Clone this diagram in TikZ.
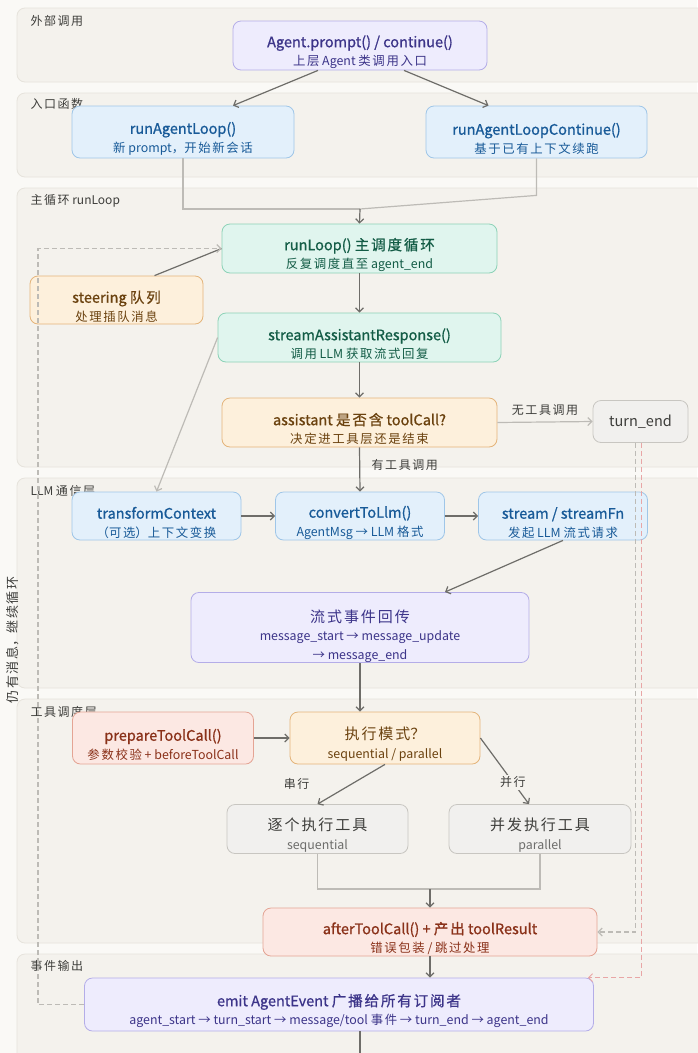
\documentclass[tikz,border=0pt]{standalone}
\usepackage{fontspec}
\setmainfont{Noto Sans CJK SC}
\newfontfamily\ttlfamily{Noto Sans CJK SC}[FakeBold=0.9]
\usepackage{xcolor}
\usepackage{tikz}
\usetikzlibrary{arrows.meta,calc,positioning}

\definecolor{pagebg}{HTML}{FAF9F6}
\definecolor{laneF}{HTML}{F4F2ED}
\definecolor{laneD}{HTML}{E6E3DC}
\definecolor{laneT}{HTML}{3D3D3A}
\definecolor{purpleF}{HTML}{EEECFD}
\definecolor{purpleD}{HTML}{B4ADE8}
\definecolor{purpleT}{HTML}{3C3489}
\definecolor{blueF}{HTML}{E3F0FB}
\definecolor{blueD}{HTML}{9FC6E8}
\definecolor{blueT}{HTML}{185A98}
\definecolor{greenF}{HTML}{E0F5EE}
\definecolor{greenD}{HTML}{8CD2B7}
\definecolor{greenT}{HTML}{135C46}
\definecolor{orangeF}{HTML}{FDF0DC}
\definecolor{orangeD}{HTML}{E4B47A}
\definecolor{orangeT}{HTML}{6B420F}
\definecolor{grayF}{HTML}{F1F0EE}
\definecolor{grayD}{HTML}{C8C6C1}
\definecolor{grayT}{HTML}{3D3D3A}
\definecolor{redF}{HTML}{FCE8E3}
\definecolor{redD}{HTML}{E4A494}
\definecolor{redT}{HTML}{8A3119}
\definecolor{darkline}{HTML}{6E6D69}
\definecolor{lightline}{HTML}{BDBBB6}
\definecolor{pinkline}{HTML}{E8A6A6}

% titles sit a little low in their boxes
\newcommand{\hd}[1]{{\rule{0pt}{25pt}\ttlfamily\fontsize{14.5}{18.5}\selectfont #1}}

% spread CJK ideographs a little
\newXeTeXintercharclass\cjkclass
\newcount\cjkcode
\cjkcode="4E00
\loop
  \XeTeXcharclass\cjkcode=\cjkclass
  \advance\cjkcode by 1
\ifnum\cjkcode<"9FB0
\repeat
\XeTeXinterchartokenstate=1
\XeTeXinterchartoks\cjkclass\cjkclass={\kern0.13em}

\begin{document}
\begin{tikzpicture}[x=1pt,y=-1pt,>={Straight Barb[length=4pt,width=8pt]},
  every node/.style={font=\fontsize{12.4}{18.5}\selectfont},
  lane/.style={fill=laneF,draw=laneD,line width=0.8pt,rounded corners=8pt},
  lanelabel/.style={anchor=west,text=laneT,font=\fontsize{12}{14}\selectfont},
  box/.style={draw,rounded corners=8pt,line width=0.8pt,align=center,inner sep=0pt},
  purplebox/.style={box,fill=purpleF,draw=purpleD,text=purpleT},
  bluebox/.style={box,fill=blueF,draw=blueD,text=blueT},
  greenbox/.style={box,fill=greenF,draw=greenD,text=greenT},
  orangebox/.style={box,fill=orangeF,draw=orangeD,text=orangeT},
  graybox/.style={box,fill=grayF,draw=grayD,text=grayT},
  redbox/.style={box,fill=redF,draw=redD,text=redT},
  flow/.style={draw=darkline,line width=1.2pt},
  soft/.style={draw=lightline,line width=1.2pt},
  loopback/.style={soft,dash pattern=on 5pt off 3pt},
  hotloop/.style={draw=pinkline,line width=1pt,dash pattern=on 5pt off 3pt},
  edgelabel/.style={text=laneT,font=\fontsize{12}{14}\selectfont}]

  \fill[pagebg] (0,0) rectangle (697,1053);
  \useasboundingbox (0,0) rectangle (697,1053);

  \foreach \ya/\yb/\lab/\ly in {8/82/外部调用/21,93/177/入口函数/104,188/467/主循环 runLoop/201,
      478/688/LLM 通信层/491,699/943/工具调度层/712,954/1080/事件输出/966}{
    \draw[lane] (17,\ya) rectangle (720,\yb);
    \node[lanelabel] (lab\ya) at (27,\ly) {\lab};
  }

  \node[purplebox,minimum width=254pt,minimum height=49pt] (agent) at (360,45.5)
    {\hd{Agent.prompt() / continue()}\\上层 Agent 类调用入口};
  \node[bluebox,minimum width=222pt,minimum height=52pt] (entry) at (183,132)
    {\hd{runAgentLoop()}\\新 prompt，开始新会话};
  \node[bluebox,minimum width=221pt,minimum height=52pt] (entrycont) at (536.5,132)
    {\hd{runAgentLoopContinue()}\\基于已有上下文续跑};
  \node[greenbox,minimum width=275pt,minimum height=49pt] (runloop) at (359.5,248.5)
    {\hd{runLoop() 主调度循环}\\反复调度直至 agent\_end};
  \node[orangebox,minimum width=173pt,minimum height=48pt] (steer) at (116.5,300)
    {\hd{steering 队列}\\处理插队消息};
  \node[greenbox,minimum width=283pt,minimum height=49pt] (respond) at (359.5,337.5)
    {\hd{streamAssistantResponse()}\\调用 LLM 获取流式回复};
  \node[orangebox,minimum width=275pt,minimum height=49pt] (hascall) at (359.5,422.5)
    {\hd{assistant 是否含 toolCall?}\\决定进工具层还是结束};
  \node[graybox,minimum width=95pt,minimum height=42pt] (turnend) at (640.5,421.5)
    {\fontsize{14.5}{19}\selectfont turn\_end};

  \node[bluebox,minimum width=169pt,minimum height=48pt] (transform) at (156.5,516)
    {\hd{transformContext}\\（可选）上下文变换};
  \node[bluebox,minimum width=169pt,minimum height=48pt] (convert) at (360,516)
    {\hd{convertToLlm()}\\AgentMsg → LLM 格式};
  \node[bluebox,minimum width=169pt,minimum height=48pt] (streamfn) at (563,516)
    {\hd{stream / streamFn}\\发起 LLM 流式请求};
  \node[purplebox,minimum width=338pt,minimum height=70pt] (events) at (360,627.5)
    {{\rule{0pt}{30pt}\fontsize{15}{18.5}\selectfont 流式事件回传}\\message\_start → message\_update\\→ message\_end};

  \node[redbox,minimum width=181pt,minimum height=52pt] (prepare) at (163,738)
    {\hd{prepareToolCall()}\\参数校验 + beforeToolCall};
  \node[orangebox,minimum width=190pt,minimum height=52pt] (mode) at (385,738)
    {{\rule{0pt}{25pt}\fontsize{15}{18.5}\selectfont 执行模式？}\\sequential / parallel};
  \node[graybox,minimum width=181pt,minimum height=49pt] (seq) at (317.5,829)
    {{\rule{0pt}{25pt}\fontsize{15}{18.5}\selectfont 逐个执行工具}\\\textcolor{grayT!75}{sequential}};
  \node[graybox,minimum width=182pt,minimum height=49pt] (par) at (540,829)
    {{\rule{0pt}{25pt}\fontsize{15}{18.5}\selectfont 并发执行工具}\\\textcolor{grayT!75}{parallel}};
  \node[redbox,minimum width=334pt,minimum height=48pt] (after) at (430,932)
    {\hd{afterToolCall() + 产出 toolResult}\\错误包装 / 跳过处理};
  \node[purplebox,minimum width=509pt,minimum height=53pt] (emit) at (339,1004.5)
    {\hd{emit AgentEvent 广播给所有订阅者}\\agent\_start → turn\_start → message/tool 事件 → turn\_end → agent\_end};

  \node[edgelabel,rotate=90,font=\fontsize{13}{14}\selectfont] (looptxt) at (13,640) {仍有消息，继续循环};

  \coordinate (merge) at (360,209);
  \coordinate (looptop) at (38,248.5);
  \coordinate (loopbot) at (38,1004.5);
  \coordinate (joinres) at (430,889);
  \coordinate (next) at (360,1053);

  \draw[flow,->] ([xshift=-42pt]agent.south) -- ([xshift=50pt]entry.north);
  \draw[flow,->] ([xshift=44pt]agent.south) -- ([xshift=-48pt]entrycont.north);
  \draw[soft] (entry.south) |- (merge);
  \draw[soft] (entrycont.south) -- ([yshift=-37pt]entrycont.south) -- (merge);
  \draw[flow,->] (merge) -- (runloop.north);
  \draw[flow] ([xshift=38pt]steer.north) -- (runloop.west);
  \draw[loopback,->] (emit.west) -- (loopbot) -- (looptop) -- (runloop.west);
  \draw[flow,->] (runloop) -- (respond);
  \draw[soft,->] (respond.west) -- (transform.north);
  \draw[flow,->] (respond) -- (hascall);
  \draw[soft,->] (hascall.east) -- node[edgelabel,above=3pt] {无工具调用} (turnend.west);
  \draw[flow,->] (hascall.south) -- node[edgelabel,right=8pt,pos=0.4] {有工具调用} (convert.north);
  \draw[flow,->] (transform) -- (convert);
  \draw[flow,->] (convert) -- (streamfn);
  \draw[flow,->] (streamfn.south) -- ([xshift=85pt]events.north);
  \draw[flow,->] (events.south) -- ([xshift=-25pt]mode.north);
  \draw[flow,->] (prepare) -- (mode);
  \draw[flow,->] (mode.south) -- node[edgelabel,left=38pt] {串行} (seq.north);
  \draw[flow,->] (mode.east) -- node[edgelabel,fill=laneF,inner sep=2pt,pos=0.67] {并行} ([xshift=-11pt]par.north);
  \draw[soft] (seq.south) |- (joinres);
  \draw[soft] (par.south) |- (joinres);
  \draw[flow,->] (joinres) -- (after.north);
  \draw[flow,->] (after.south) -- (after.south |- emit.north);
  \draw[loopback,->] ([xshift=-5pt]turnend.south) |- (after.east);
  \draw[hotloop,->] ([xshift=1pt]turnend.south) |- ([xshift=-6pt]emit.north east);
  \draw[flow] (next |- emit.south) -- (next);
\end{tikzpicture}
\end{document}
